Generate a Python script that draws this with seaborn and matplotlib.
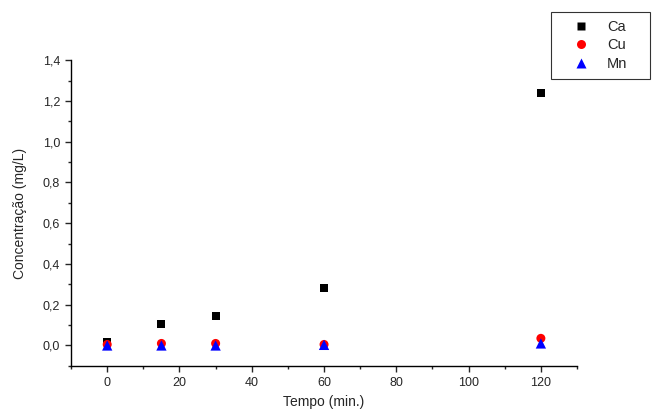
import numpy as np
import pandas as pd
import matplotlib
matplotlib.use("Agg")
import matplotlib.pyplot as plt
import seaborn as sns
from matplotlib.ticker import MultipleLocator, FuncFormatter

sns.set_style("ticks")
plt.rcParams["font.family"] = ["Liberation Sans", "DejaVu Sans"]

# data
tempo = [0, 15, 30, 60, 120]
ca = [0.015, 0.105, 0.145, 0.28, 1.24]
cu = [0.005, 0.01, 0.01, 0.005, 0.035]
mn = [0.0, 0.0, 0.0, 0.003, 0.01]

df = pd.DataFrame({"Tempo": tempo * 3,
                   "Conc": ca + cu + mn,
                   "Elemento": ["Ca"] * 5 + ["Cu"] * 5 + ["Mn"] * 5})

fig = plt.figure(figsize=(6.52, 4.12), dpi=100)
ax = fig.add_axes([0.109, 0.112, 0.776, 0.742])

sns.scatterplot(data=df, x="Tempo", y="Conc", hue="Elemento", style="Elemento",
                size="Elemento", sizes={"Ca": 34, "Cu": 42, "Mn": 55},
                palette={"Ca": "black", "Cu": "red", "Mn": "blue"},
                markers={"Ca": "s", "Cu": "o", "Mn": "^"},
                edgecolor="none", ax=ax, legend=True)

ax.set_xlim(-10, 130)
ax.set_ylim(-0.1, 1.4)
ax.xaxis.set_major_locator(MultipleLocator(20))
ax.xaxis.set_minor_locator(MultipleLocator(10))
ax.yaxis.set_major_locator(MultipleLocator(0.2))
ax.yaxis.set_minor_locator(MultipleLocator(0.1))
ax.yaxis.set_major_formatter(FuncFormatter(lambda v, p: f"{v:.1f}".replace(".", ",")))
ax.tick_params(which="major", length=4, width=1, labelsize=9, direction="out", pad=4)
ax.tick_params(which="minor", length=2.5, width=1, direction="out")
for sp in ["top", "right"]:
    ax.spines[sp].set_visible(False)
for sp in ["left", "bottom"]:
    ax.spines[sp].set_linewidth(1)
    ax.spines[sp].set_color("black")

ax.set_xlabel("Tempo (min.)", fontsize=10, labelpad=4)
ax.set_ylabel("Concentração (mg/L)", fontsize=10, labelpad=11)

leg = ax.legend(loc="upper left",
                bbox_to_anchor=(551 / 652, 1 - 82 / 412, 99 / 652, 70 / 412),
                mode="expand", bbox_transform=fig.transFigure, frameon=True,
                fancybox=False, fontsize=10.5, handletextpad=0.3, borderpad=0.55,
                labelspacing=0.3, handlelength=3.0, markerscale=1.0,
                borderaxespad=0)
leg.get_frame().set_edgecolor("black")
leg.get_frame().set_linewidth(0.8)
leg.set_title(None)

fig.savefig("out.png", dpi=100)
